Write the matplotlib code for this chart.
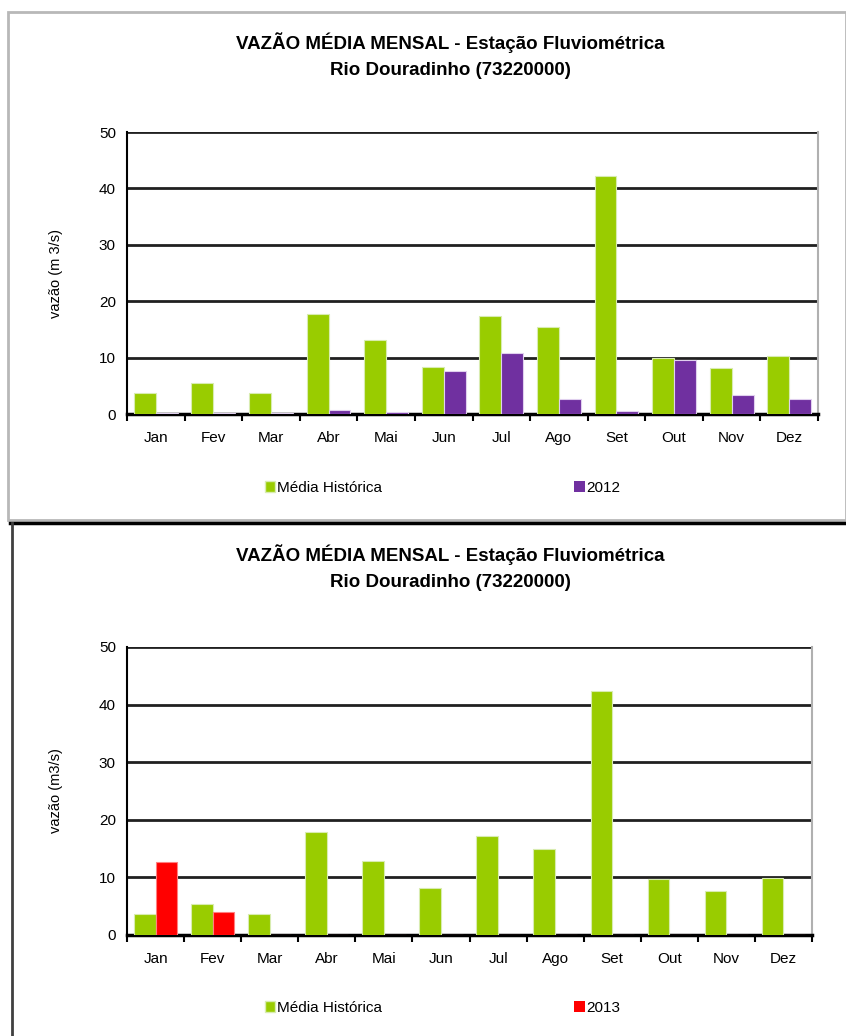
import matplotlib.pyplot as plt
from matplotlib.lines import Line2D
from matplotlib.patches import Rectangle, Patch
import numpy as np

plt.rcParams['font.family'] = ['Liberation Sans', 'DejaVu Sans']

meses = ['Jan', 'Fev', 'Mar', 'Abr', 'Mai', 'Jun', 'Jul', 'Ago', 'Set', 'Out', 'Nov', 'Dez']
media_2012 = [3.8, 5.5, 3.8, 17.8, 13.2, 8.4, 17.3, 15.4, 42.2, 10.0, 8.2, 10.2]
vazao_2012 = [0.1, 0.1, 0.1, 0.7, 0.3, 7.7, 10.9, 2.6, 0.6, 9.6, 3.3, 2.6]
media_2013 = [3.6, 5.4, 3.6, 17.8, 12.8, 8.2, 17.2, 15.0, 42.3, 9.7, 7.6, 9.9]
vazao_2013 = [12.6, 4.0, 0, 0, 0, 0, 0, 0, 0, 0, 0, 0]

W, H = 846, 1036
fig = plt.figure(figsize=(W / 100, H / 100), dpi=100)
fig.patch.set_facecolor('white')


def px(x, y):
    # pixel coords (from top-left) to figure fraction
    return x / W, 1 - y / H


def painel(rect, media, ano, ano_label, ano_cor, ylabel, title_y, leg_y):
    ax = fig.add_axes(rect)
    x = np.arange(len(meses))
    w = 0.38
    ax.bar(x - w / 2, media, w, color='#99cc00', edgecolor='#d8ecb0', linewidth=0.8, zorder=3)
    ax.bar(x + w / 2, ano, w, color=ano_cor, edgecolor='#e0d0ee' if ano_cor != '#ff0000' else '#ff8080',
           linewidth=0.8, zorder=3)
    ax.set_xlim(-0.5, len(meses) - 0.5)
    ax.set_ylim(0, 50)
    ax.set_yticks(range(0, 51, 10))
    ax.yaxis.grid(True, color='#202020', linewidth=2, zorder=1)
    ax.set_xticks(x)
    ax.set_xticklabels(meses, fontsize=11)
    ax.set_xticks(np.arange(-0.5, len(meses)), minor=True)
    ax.tick_params(axis='x', which='major', length=0, pad=12)
    ax.tick_params(axis='x', which='minor', length=5, width=1.5, direction='out')
    ax.tick_params(axis='y', length=0, labelsize=11, pad=8)
    ax.spines['top'].set_visible(False)
    ax.spines['right'].set_color('#b0b0b0')
    ax.spines['right'].set_linewidth(1.5)
    ax.spines['left'].set_linewidth(1.5)
    ax.spines['bottom'].set_linewidth(2.5)
    ax.set_ylabel(ylabel, fontsize=10.5, labelpad=26)

    fx, fy = px(450, title_y)
    fig.text(fx, fy, 'VAZÃO MÉDIA MENSAL - Estação Fluviométrica\nRio Douradinho (73220000)',
             ha='center', va='center', fontsize=13.5, fontweight='bold', linespacing=1.7)

    handles = [Patch(facecolor='#99cc00', edgecolor='#d8ecb0'),
               Patch(facecolor=ano_cor)]
    lx, ly = px(251, leg_y)
    ax.legend(handles, ['Média Histórica', ano_label], loc='center left',
              bbox_to_anchor=(lx, ly), bbox_transform=fig.transFigure, ncol=2,
              frameon=False, fontsize=11, handlelength=0.7, handleheight=0.7,
              handletextpad=0.1, columnspacing=12.6)
    return ax


painel([127 / W, 1 - 414 / H, 691 / W, 282 / H], media_2012, vazao_2012, '2012', '#7030a0',
       'vazão (m 3/s)', 56, 488)
painel([127 / W, 1 - 935 / H, 685 / W, 288 / H], media_2013, vazao_2013, '2013', '#ff0000',
       'vazão (m3/s)', 568, 1008)

# panel frames
x0, y0 = px(8, 520)
fig.add_artist(Rectangle((x0, y0), (846 - 8) / W, (520 - 12) / H, transform=fig.transFigure,
                         fill=False, edgecolor='#b8b8b8', linewidth=2))
fig.add_artist(Line2D([10 / W, 1], [1 - 523 / H, 1 - 523 / H], transform=fig.transFigure,
                      color='black', linewidth=2.5))
fig.add_artist(Line2D([12 / W, 12 / W], [1 - 523 / H, 0], transform=fig.transFigure,
                      color='#404040', linewidth=2))

fig.savefig('out.png', dpi=100)
